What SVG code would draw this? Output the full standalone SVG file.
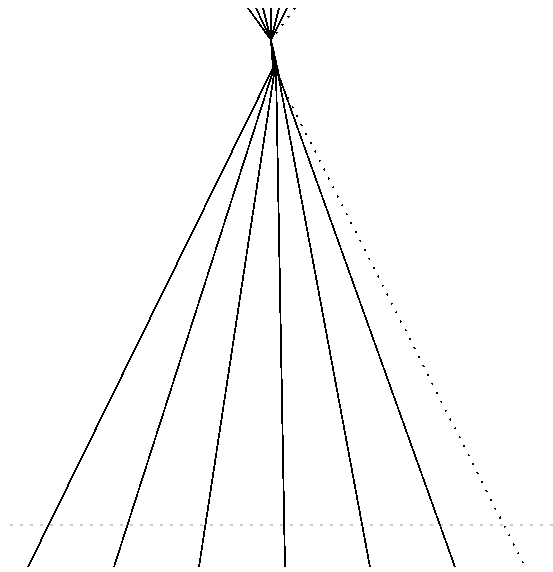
<svg xmlns="http://www.w3.org/2000/svg" width="553" height="572" viewBox="0 0 553 572">
<style>
.e{fill:none;stroke:#000;stroke-width:1.8;shape-rendering:crispEdges}
.d{fill:none;stroke:#000;stroke-width:1.8;stroke-dasharray:2 8;shape-rendering:crispEdges}
.g{fill:none;stroke:#999;stroke-width:1;stroke-dasharray:3 7}
</style>
<rect width="553" height="572" fill="#fff"/>
<line class="g" x1="10" y1="525" x2="553" y2="525"/>
<g id="connectors">
<path class="e" d="M248 8 L271 40 L273 68 L28 567"/>
<path class="e" d="M256 8 L271 40 L274 68 L114 567"/>
<path class="e" d="M263 8 L271 40 L275 68 L199 567"/>
<path class="e" d="M271 8 L271 40 L276 68 L285 567"/>
<path class="e" d="M279 8 L271 40 L277 68 L370 567"/>
<path class="e" d="M287 8 L271 40 L279 76 L455 567"/>
<path class="d" d="M295 8 L271 40 L281 84 L525 567"/>
</g>
</svg>
